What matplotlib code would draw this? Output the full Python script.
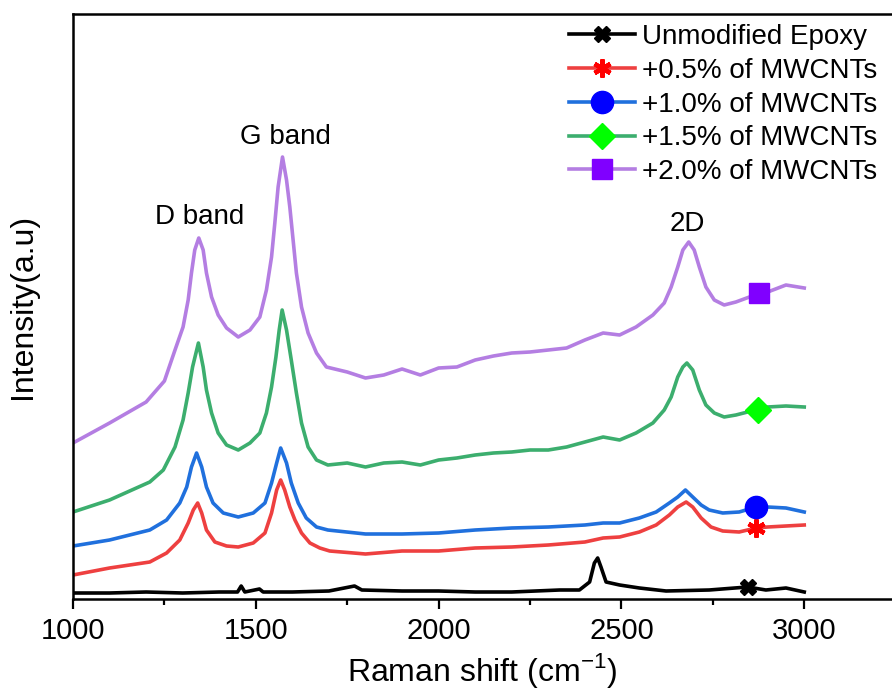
import matplotlib
matplotlib.use("Agg")
import matplotlib.pyplot as plt
from matplotlib.ticker import MultipleLocator

plt.rcParams['font.family'] = ['Liberation Sans', 'DejaVu Sans']

# Raman spectra (intensity in arbitrary units, curves offset for clarity)
epoxy_x = [1000, 1100, 1200, 1300, 1400, 1450, 1460, 1470, 1510, 1520, 1600, 1700,
           1770, 1790, 1900, 2000, 2100, 2200, 2331, 2385, 2413, 2426, 2435, 2444,
           2458, 2495, 2549, 2622, 2740, 2845, 2895, 2950, 3000]
epoxy_y = [6, 6, 7, 6, 7, 7, 13, 7, 10, 7, 7, 8,
           13, 9, 8, 8, 7, 7, 9, 9, 17, 36, 41, 32,
           17, 14, 11, 8, 9, 12, 9, 11, 7]

cnt05_x = [1000, 1100, 1210, 1256, 1292, 1315, 1329, 1341, 1352, 1365, 1388, 1420,
           1452, 1493, 1525, 1543, 1557, 1568, 1579, 1593, 1607, 1625, 1648, 1675,
           1702, 1800, 1900, 2000, 2100, 2200, 2300, 2400, 2450, 2495, 2549, 2595,
           2631, 2654, 2677, 2695, 2718, 2745, 2777, 2822, 2868, 2900, 3000]
cnt05_y = [24, 31, 37, 46, 59, 76, 89, 96, 86, 69, 57, 53,
           52, 56, 66, 86, 109, 119, 109, 92, 79, 66, 56, 51,
           48, 45, 48, 48, 51, 52, 54, 57, 61, 62, 67, 74,
           84, 92, 97, 92, 81, 72, 68, 67, 71, 72, 74]

cnt10_x = [1000, 1100, 1210, 1256, 1292, 1311, 1324, 1338, 1352, 1365, 1383, 1411,
           1452, 1493, 1525, 1543, 1557, 1568, 1584, 1597, 1616, 1638, 1666, 1697,
           1800, 1900, 2000, 2100, 2200, 2300, 2400, 2450, 2495, 2549, 2595, 2631,
           2654, 2675, 2695, 2718, 2740, 2777, 2822, 2868, 2900, 2950, 3000]
cnt10_y = [53, 59, 69, 79, 96, 112, 132, 146, 132, 112, 96, 86,
           82, 86, 96, 116, 136, 151, 136, 116, 96, 81, 72, 69,
           65, 65, 66, 69, 71, 72, 74, 76, 76, 81, 87, 96,
           102, 109, 102, 94, 89, 86, 87, 92, 92, 91, 87]

cnt15_x = [1000, 1100, 1210, 1247, 1279, 1301, 1315, 1327, 1343, 1356, 1365, 1379,
           1397, 1420, 1452, 1484, 1511, 1529, 1543, 1555, 1564, 1572, 1584, 1597,
           1611, 1625, 1643, 1666, 1697, 1750, 1800, 1850, 1900, 1950, 2000, 2050,
           2100, 2150, 2200, 2250, 2300, 2350, 2400, 2450, 2495, 2540, 2586, 2617,
           2636, 2654, 2668, 2679, 2695, 2713, 2731, 2754, 2781, 2813, 2845, 2873,
           2900, 2950, 3000]
cnt15_y = [87, 99, 117, 129, 152, 179, 206, 232, 256, 232, 209, 186,
           166, 154, 149, 156, 166, 186, 212, 242, 269, 289, 269, 239,
           206, 176, 152, 139, 134, 136, 132, 136, 137, 134, 139, 141,
           144, 146, 147, 149, 149, 152, 157, 162, 159, 166, 176, 189,
           202, 222, 232, 236, 229, 209, 194, 186, 182, 184, 187, 189,
           192, 193, 192]

cnt20_x = [1000, 1100, 1200, 1250, 1279, 1301, 1315, 1324, 1333, 1344, 1356, 1365,
           1379, 1397, 1420, 1452, 1484, 1511, 1529, 1543, 1552, 1561, 1573, 1584,
           1593, 1602, 1611, 1625, 1643, 1666, 1693, 1750, 1800, 1850, 1900, 1950,
           2000, 2050, 2100, 2150, 2200, 2250, 2300, 2350, 2400, 2450, 2495, 2540,
           2586, 2617, 2636, 2654, 2668, 2684, 2699, 2713, 2731, 2754, 2781, 2813,
           2850, 2877, 2900, 2950, 3000]
cnt20_y = [156, 176, 197, 218, 249, 272, 299, 326, 349, 361, 349, 326,
           302, 284, 271, 262, 269, 282, 309, 342, 376, 412, 442, 419,
           392, 359, 326, 292, 266, 246, 232, 227, 221, 224, 230, 224,
           231, 232, 239, 243, 246, 247, 249, 251, 259, 266, 264, 272,
           284, 296, 312, 332, 349, 357, 349, 332, 312, 299, 294, 297,
           302, 306, 307, 314, 311]

labels = ["Unmodified Epoxy", "+0.5% of MWCNTs", "+1.0% of MWCNTs",
          "+1.5% of MWCNTs", "+2.0% of MWCNTs"]
marker_x = [2845, 2868, 2868, 2873, 2877]

series = [(epoxy_x, epoxy_y), (cnt05_x, cnt05_y), (cnt10_x, cnt10_y),
          (cnt15_x, cnt15_y), (cnt20_x, cnt20_y)]
line_colors = ["#000000", "#ee4040", "#2070dd", "#3cae6e", "#b47ee2"]
marker_colors = ["#000000", "#ff0000", "#0000ff", "#00ff00", "#8000ff"]
markers = ["X", (6, 2, 0), "o", "D", "s"]
marker_sizes = [12, 13, 16, 13, 14]
marker_edges = [1.0, 3.2, 1.0, 1.0, 1.0]

fig = plt.figure(figsize=(8.92, 6.91), dpi=100)
ax = fig.add_axes([73 / 892, 92 / 691, 1 - 73 / 892, 585 / 691])

for (xs, ys), lab, lc, mc, mk, ms, me, mx in zip(series, labels, line_colors,
                                                 marker_colors, markers, marker_sizes,
                                                 marker_edges, marker_x):
    ax.plot(xs, ys, color=lc, lw=2.6, label=lab, solid_joinstyle='round',
            marker=mk, markersize=ms, markerfacecolor=mc, markeredgecolor=mc,
            markeredgewidth=me, markevery=[xs.index(mx)])

ax.set_xlim(1000, 3240)
ax.set_ylim(0, 585)
ax.xaxis.set_major_locator(MultipleLocator(500))
ax.xaxis.set_minor_locator(MultipleLocator(250))
ax.set_yticks([])
ax.tick_params(axis='x', which='major', direction='out', length=7, width=1.6,
               labelsize=21, pad=6)
ax.tick_params(axis='x', which='minor', direction='out', length=4, width=1.6)
for side in ['left', 'bottom', 'top']:
    ax.spines[side].set_linewidth(1.8)
ax.spines['right'].set_visible(False)

ax.set_xlabel("Raman shift (cm$^{\\mathregular{-1}}$)", fontsize=23, labelpad=4)
ax.set_ylabel("Intensity(a.u)", fontsize=23, labelpad=25)

ax.text(1345, 382, "D band", fontsize=20, ha='center', va='center')
ax.text(1580, 462, "G band", fontsize=20, ha='center', va='center')
ax.text(2680, 375, "2D", fontsize=20, ha='center', va='center')

ax.legend(loc='upper left', bbox_to_anchor=(569 / 892, 667 / 691),
          bbox_transform=fig.transFigure, frameon=False, fontsize=20,
          handlelength=2.37, handletextpad=0.25, labelspacing=0.28,
          borderpad=0, borderaxespad=0, numpoints=1)

fig.savefig("out.png", dpi=100)
